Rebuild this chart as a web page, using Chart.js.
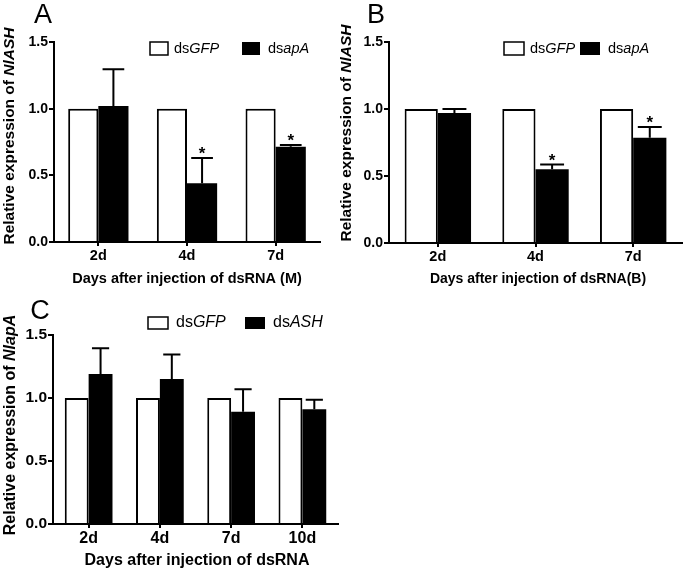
<!DOCTYPE html>
<html>
<head>
<meta charset="utf-8">
<script src="https://cdn.jsdelivr.net/npm/chart.js@4.4.0/dist/chart.umd.min.js"></script>
<style>
  html, body { margin: 0; padding: 0; background: #fff; }
  #wrap { position: relative; width: 685px; height: 572px; overflow: hidden; }
  canvas { position: absolute; }
</style>
</head>
<body>
<div id="wrap">
  <canvas id="chartA" width="340" height="290" style="left:0;top:0"></canvas>
  <canvas id="chartB" width="345" height="290" style="left:340px;top:0"></canvas>
  <canvas id="chartC" width="380" height="287" style="left:0;top:285px"></canvas>
</div>
<script>
const FONT = '"Liberation Sans", Arial, Helvetica, sans-serif'

// categories / ticks
const daysAB = ["2d", "4d", "7d"]
const daysC = ["2d", "4d", "7d", "10d"]
const yTicks = [0, 0.5, 1.0, 1.5]

// panel A - NlASH after dsapA (M)
const gfpA = [1.0, 1.0, 1.0]
const apaA = [1.02, 0.44, 0.715]
const apaAErr = [0.275, 0.19, 0.013]
const starsA = [false, true, true]

// panel B - NlASH after dsapA (B)
const gfpB = [1.0, 1.0, 1.0]
const apaB = [0.97, 0.55, 0.785]
const apaBErr = [0.03, 0.035, 0.08]
const starsB = [false, true, true]

// panel C - NlapA after dsASH
const gfpC = [1.0, 1.0, 1.0, 1.0]
const ashC = [1.19, 1.15, 0.89, 0.91]
const ashCErr = [0.205, 0.195, 0.18, 0.077]
const starsC = [false, false, false, false]

// draw a line of text made of parts with different styles
function rich(ctx, parts, x, y, size, align) {
  const fonts = parts.map(p => `${p[1]} ${size}px ${FONT}`)
  let total = 0
  parts.forEach((p, i) => { ctx.font = fonts[i]; total += ctx.measureText(p[0]).width })
  let cx = align === "left" ? x : x - total / 2
  ctx.textAlign = "left"
  ctx.textBaseline = "middle"
  parts.forEach((p, i) => {
    ctx.font = fonts[i]
    ctx.fillText(p[0], cx, y)
    cx += ctx.measureText(p[0]).width
  })
}

function deco(spec) {
  return {
    id: "deco" + spec.letter,
    afterDatasetsDraw(chart) {
      const ctx = chart.ctx
      const y = chart.scales.y
      const meta = chart.getDatasetMeta(1)
      ctx.save()
      ctx.strokeStyle = "#000"
      ctx.fillStyle = "#000"
      ctx.lineWidth = 2
      meta.data.forEach((bar, i) => {
        const v = chart.data.datasets[1].data[i]
        const top = y.getPixelForValue(v + spec.err[i])
        const half = bar.width * 0.36
        ctx.beginPath()
        ctx.moveTo(bar.x, bar.y)
        ctx.lineTo(bar.x, top)
        ctx.moveTo(bar.x - half, top)
        ctx.lineTo(bar.x + half, top)
        ctx.stroke()
        if (spec.stars[i]) {
          ctx.font = `bold 17px ${FONT}`
          ctx.textAlign = "center"
          ctx.textBaseline = "alphabetic"
          ctx.fillText("*", bar.x, top + 1)
        }
      })
      ctx.restore()
    },
    afterDraw(chart) {
      const ctx = chart.ctx
      ctx.save()
      ctx.fillStyle = "#000"
      // panel letter
      ctx.font = `27px ${FONT}`
      ctx.textAlign = "center"
      ctx.textBaseline = "alphabetic"
      ctx.fillText(spec.letter, spec.letterPos[0], spec.letterPos[1])
      // x title
      rich(ctx, [[spec.xTitle, "bold"]], spec.xTitlePos[0], spec.xTitlePos[1], spec.xTitleSize)
      // y title
      ctx.save()
      ctx.translate(spec.yTitlePos[0], spec.yTitlePos[1])
      ctx.rotate(-Math.PI / 2)
      rich(ctx, spec.yTitle, 0, 0, spec.yTitleSize)
      ctx.restore()
      // legend
      const lg = spec.legend
      ctx.lineWidth = 1.5
      ctx.strokeStyle = "#000"
      ctx.fillStyle = "#fff"
      ctx.fillRect(lg.box1[0], lg.y, lg.bw, lg.bh)
      ctx.strokeRect(lg.box1[0], lg.y, lg.bw, lg.bh)
      ctx.fillStyle = "#000"
      ctx.fillRect(lg.box2[0], lg.y, lg.bw, lg.bh)
      rich(ctx, lg.labels[0], lg.box1[1], lg.y + lg.bh / 2, lg.size, "left")
      rich(ctx, lg.labels[1], lg.box2[1], lg.y + lg.bh / 2, lg.size, "left")
      ctx.restore()
    }
  }
}

function makeChart(id, labels, white, black, spec) {
  return new Chart(document.getElementById(id), {
    type: "bar",
    data: {
      labels: labels,
      datasets: [
        { label: "dsGFP", data: white, backgroundColor: "#fff", borderColor: "#000", borderWidth: 2 },
        { label: spec.blackLabel, data: black, backgroundColor: "#000", borderColor: "#000", borderWidth: 0 }
      ]
    },
    options: {
      responsive: false,
      animation: false,
      devicePixelRatio: 1,
      layout: { padding: { top: spec.padTop, right: spec.padRight, bottom: 0, left: 0 } },
      datasets: { bar: { categoryPercentage: spec.cat, barPercentage: 1.0 } },
      plugins: { legend: { display: false }, tooltip: { enabled: false } },
      scales: {
        x: {
          grid: { offset: false, drawOnChartArea: false, drawTicks: true, tickLength: 4, color: "#000", lineWidth: 2 },
          border: { display: true, color: "#000", width: 2 },
          ticks: { color: "#000", font: { family: FONT, size: spec.xTick, weight: "bold" }, padding: 1, maxRotation: 0 },
          afterFit: s => { s.height = spec.xH }
        },
        y: {
          min: 0,
          max: 1.5,
          afterBuildTicks: s => { s.ticks = yTicks.map(v => ({ value: v })) },
          grid: { drawOnChartArea: false, drawTicks: true, tickLength: 5, color: "#000", lineWidth: 2 },
          border: { display: true, color: "#000", width: 2 },
          ticks: { color: "#000", font: { family: FONT, size: spec.yTick, weight: "bold" }, padding: 1, callback: v => v.toFixed(1) },
          afterFit: s => { s.width = spec.yW }
        }
      }
    },
    plugins: [deco(spec)]
  })
}

makeChart("chartA", daysAB, gfpA, apaA, {
  letter: "A", letterPos: [43, 23], blackLabel: "dsapA",
  err: apaAErr, stars: starsA,
  padTop: 42, padRight: 20, yW: 54, xH: 48, cat: 0.68, xTick: 14.5, yTick: 14,
  xTitle: "Days after injection of dsRNA (M)", xTitlePos: [187, 279], xTitleSize: 14.5,
  yTitle: [["Relative expression of ", "bold"], ["NlASH", "italic bold"]], yTitlePos: [10, 136], yTitleSize: 15.5,
  legend: { y: 42, bw: 18, bh: 13, box1: [150, 174], box2: [242, 268], size: 14.5,
    labels: [[["ds", ""], ["GFP", "italic"]], [["ds", ""], ["apA", "italic"]]] }
})

makeChart("chartB", daysAB, gfpB, apaB, {
  letter: "B", letterPos: [36, 23], blackLabel: "dsapA",
  err: apaBErr, stars: starsB,
  padTop: 42, padRight: 3, yW: 49, xH: 47, cat: 0.68, xTick: 14.5, yTick: 14,
  xTitle: "Days after injection of dsRNA(B)", xTitlePos: [198, 279], xTitleSize: 14,
  yTitle: [["Relative expression of ", "bold"], ["NlASH", "italic bold"]], yTitlePos: [7, 133], yTitleSize: 15.5,
  legend: { y: 42, bw: 20, bh: 13, box1: [164, 190], box2: [240, 268], size: 14.5,
    labels: [[["ds", ""], ["GFP", "italic"]], [["ds", ""], ["apA", "italic"]]] }
})

makeChart("chartC", daysC, gfpC, ashC, {
  letter: "C", letterPos: [40, 34], blackLabel: "dsASH",
  err: ashCErr, stars: starsC,
  padTop: 50, padRight: 42, yW: 53, xH: 48, cat: 0.67, xTick: 16, yTick: 15.5,
  xTitle: "Days after injection of dsRNA", xTitlePos: [197, 276], xTitleSize: 16,
  yTitle: [["Relative expression of ", "bold"], ["NlapA", "italic bold"]], yTitlePos: [11, 140], yTitleSize: 16,
  legend: { y: 32, bw: 20, bh: 12, box1: [148, 176], box2: [245, 273], size: 16,
    labels: [[["ds", ""], ["GFP", "italic"]], [["ds", ""], ["ASH", "italic"]]] }
})
</script>
</body>
</html>
